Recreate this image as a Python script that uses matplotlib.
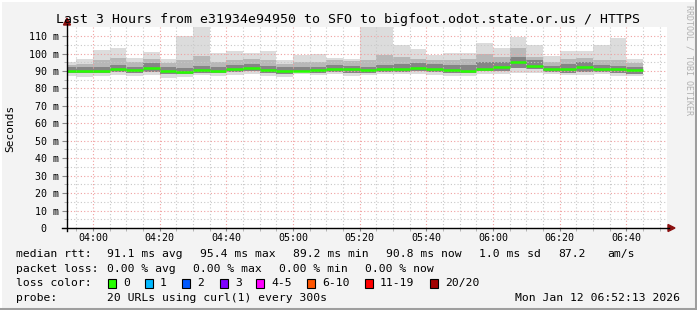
import matplotlib
matplotlib.use("Agg")
import matplotlib.pyplot as plt
import matplotlib.dates as mdates
from matplotlib.patches import Rectangle, Polygon
from matplotlib.lines import Line2D
import pandas as pd
import numpy as np

# ---------------- data ----------------
title = "Last 3 Hours from e31934e94950 to SFO to bigfoot.odot.state.or.us / HTTPS"
bar_start = pd.date_range("2026-01-12 03:50", periods=35, freq="5min")
view_start = pd.Timestamp("2026-01-12 03:52:13")
view_end = pd.Timestamp("2026-01-12 06:52:13")

rtt_max = [95.0, 96.8, 102.0, 103.3, 97.6, 101.0, 96.8, 109.8, 116.0, 100.4,
           101.4, 100.1, 101.5, 96.2, 99.4, 100.0, 97.5, 96.7, 116.0, 116.0,
           104.6, 102.7, 99.2, 100.3, 100.5, 106.0, 103.2, 109.6, 104.6, 98.7,
           101.4, 101.2, 104.6, 109.1, 96.8]
rtt_hi2 = [93.5, 94.0, 96.0, 97.5, 95.0, 97.0, 94.5, 96.0, 98.5, 95.0,
           96.5, 97.0, 96.0, 94.0, 95.0, 95.0, 96.0, 95.5, 96.0, 99.0,
           98.0, 97.0, 96.0, 96.0, 97.0, 100.0, 98.0, 103.0, 98.0, 95.0,
           97.0, 97.5, 96.5, 96.0, 94.5]
rtt_hi1 = [92.0, 92.0, 92.5, 93.5, 92.5, 94.5, 92.0, 91.5, 93.0, 92.0,
           93.5, 94.0, 93.0, 92.0, 92.5, 92.5, 93.5, 93.0, 92.5, 93.5,
           94.0, 94.5, 94.0, 93.5, 93.5, 95.0, 95.0, 98.0, 96.0, 93.0,
           94.0, 95.0, 93.5, 93.0, 92.5]
rtt_median = [90.2, 90.2, 90.2, 91.3, 90.5, 91.8, 90.2, 89.2, 90.7, 90.2,
              91.3, 91.9, 90.7, 90.2, 90.2, 90.6, 91.4, 91.4, 90.3, 91.1,
              91.1, 91.8, 91.2, 90.5, 90.0, 91.2, 92.0, 95.2, 93.0, 91.2,
              91.1, 92.0, 91.2, 91.2, 90.7]
rtt_lo1 = [89.0, 89.0, 89.0, 89.5, 89.0, 89.5, 88.5, 88.0, 89.0, 89.0,
           89.5, 90.0, 89.0, 88.5, 89.5, 89.0, 89.5, 89.0, 89.0, 89.5,
           89.5, 90.0, 89.5, 89.0, 89.0, 90.0, 90.0, 91.5, 91.0, 89.5,
           89.0, 89.5, 89.5, 89.0, 88.5]
rtt_min = [87.0, 86.7, 87.0, 87.5, 87.0, 87.9, 86.0, 86.5, 87.5, 87.3,
           87.8, 88.0, 87.2, 86.8, 88.3, 87.5, 88.0, 87.3, 87.5, 88.5,
           88.0, 88.5, 87.5, 87.0, 87.0, 88.5, 88.5, 88.8, 89.0, 88.0,
           87.5, 87.5, 88.0, 87.0, 87.0]

ytick_vals = [0, 10, 20, 30, 40, 50, 60, 70, 80, 90, 100, 110]
ytick_labels = ["0  ", "10 m", "20 m", "30 m", "40 m", "50 m", "60 m", "70 m",
                "80 m", "90 m", "100 m", "110 m"]

loss_labels = ["0", "1", "2", "3", "4-5", "6-10", "11-19", "20/20"]
loss_colors = ["#26ff00", "#00b8ff", "#0059ff", "#7e00ff", "#ff00ff",
               "#ff5500", "#ff0000", "#a10000"]

stats_rtt = ["91.1 ms avg", "95.4 ms max", "89.2 ms min", "90.8 ms now",
             "1.0 ms sd", "87.2", "am/s"]
stats_loss = ["0.00 % avg", "0.00 % max", "0.00 % min", "0.00 % now"]
probe_text = "20 URLs using curl(1) every 300s"
stamp_text = "Mon Jan 12 06:52:13 2026"

# ---------------- figure ----------------
W, H = 697, 310
plt.rcParams["font.family"] = ["DejaVu Sans Mono"]
fig = plt.figure(figsize=(W / 100, H / 100), dpi=100, facecolor="#f3f3f3")

def fx(px):
    return px / W

def fy(py):
    return 1 - py / H

ax_l, ax_r, ax_t, ax_b = 67, 667, 27, 228
ax = fig.add_axes([fx(ax_l), fy(ax_b), fx(ax_r - ax_l), (ax_b - ax_t) / H])
ax.set_facecolor("white")

width = pd.Timedelta("5min")
wdays = 5 / 1440.0
layers = [(rtt_min, rtt_max, "#dcdcdc"),
          (rtt_lo1, rtt_hi2, "#b8b8b8"),
          (rtt_lo1, rtt_hi1, "#858585")]
for lo, hi, col in layers:
    lo = np.array(lo)
    hi = np.array(hi)
    ax.bar(bar_start, hi - lo, bottom=lo, width=wdays, align="edge",
           color=col, linewidth=0, zorder=1)

ax.hlines(rtt_median, bar_start, bar_start + width, colors=loss_colors[0],
          linewidth=1.8, zorder=4)

ax.set_xlim(view_start, view_end)
ax.set_ylim(0, 115.2)

ax.xaxis.set_major_locator(mdates.MinuteLocator(byminute=[0, 20, 40]))
ax.xaxis.set_minor_locator(mdates.MinuteLocator(byminute=range(0, 60, 5)))
ax.xaxis.set_major_formatter(mdates.DateFormatter("%H:%M"))
ax.set_yticks(ytick_vals)
ax.set_yticklabels(ytick_labels)
ax.set_yticks(np.arange(5, 115, 10), minor=True)

ax.grid(which="major", color="#f0a0a0", linestyle=(0, (1, 2)), linewidth=0.8)
ax.grid(which="minor", color="#c8c8c8", linestyle=(0, (1, 2)), linewidth=0.8)
ax.set_axisbelow(False)

for s in ["top", "right", "left", "bottom"]:
    ax.spines[s].set_visible(False)

ax.tick_params(axis="both", which="major", labelsize=7.2, length=3.5,
               width=0.8, color="#888888", pad=2)
ax.tick_params(axis="both", which="minor", length=2, width=0.6,
               color="#aaaaaa")
ax.tick_params(axis="x", which="major", length=2.5, pad=1)

# axis lines with arrows
fig.add_artist(Line2D([fx(ax_l), fx(ax_l)], [fy(ax_b + 3), fy(24)],
                      color="black", linewidth=1, transform=fig.transFigure))
fig.add_artist(Line2D([fx(62), fx(669)], [fy(ax_b), fy(ax_b)],
                      color="black", linewidth=1, transform=fig.transFigure))
fig.add_artist(Polygon([[fx(ax_l - 3.5), fy(25)], [fx(ax_l + 3.5), fy(25)],
                        [fx(ax_l), fy(18)]], closed=True, color="#8b1010",
                       transform=fig.transFigure))
fig.add_artist(Polygon([[fx(668), fy(ax_b - 3.5)], [fx(668), fy(ax_b + 3.5)],
                        [fx(675), fy(ax_b)]], closed=True, color="#8b1010",
                       transform=fig.transFigure))

# texts
fig.text(fx(348), fy(19), title, ha="center", va="center", fontsize=9.55,
         color="black")
fig.text(fx(10), fy(128), "Seconds", rotation=90, ha="center", va="center",
         fontsize=8, color="black")
fig.text(fx(689), fy(60), "RRDTOOL / TOBI OETIKER", rotation=270,
         ha="center", va="center", fontsize=6.0, color="#b0b0b0")

lfs = 8.2
row_y = [254, 269, 283, 298]
fig.text(fx(16), fy(row_y[0]), "median rtt:", fontsize=lfs, va="center")
for txt, x in zip(stats_rtt, [107, 200, 293, 386, 479, 558, 607]):
    fig.text(fx(x), fy(row_y[0]), txt, fontsize=lfs, va="center")
fig.text(fx(16), fy(row_y[1]), "packet loss:", fontsize=lfs, va="center")
for txt, x in zip(stats_loss, [107, 193, 279, 365]):
    fig.text(fx(x), fy(row_y[1]), txt, fontsize=lfs, va="center")
fig.text(fx(16), fy(row_y[2]), "loss color:", fontsize=lfs, va="center")
for lab, col, x in zip(loss_labels, loss_colors,
                       [108, 145, 182, 220, 256, 307, 365, 430]):
    fig.add_artist(Rectangle((fx(x), fy(row_y[2] + 4.5)), fx(8), 9 / H,
                             facecolor=col, edgecolor="black", linewidth=0.8,
                             transform=fig.transFigure))
    fig.text(fx(x + 15), fy(row_y[2]), lab, fontsize=lfs, va="center")
fig.text(fx(16), fy(row_y[3]), "probe:", fontsize=lfs, va="center")
fig.text(fx(107), fy(row_y[3]), probe_text, fontsize=lfs, va="center")
fig.text(fx(680), fy(row_y[3]), stamp_text, fontsize=lfs, va="center",
         ha="right")

# frame
fig.add_artist(Line2D([0, 1], [fy(1), fy(1)], color="#ffffff", linewidth=1.5,
                      transform=fig.transFigure))
fig.add_artist(Line2D([fx(1), fx(1)], [0, 1], color="#ffffff", linewidth=1.5,
                      transform=fig.transFigure))
fig.add_artist(Line2D([0, 1], [fy(308.5), fy(308.5)], color="#9e9e9e",
                      linewidth=2.2, transform=fig.transFigure))
fig.add_artist(Line2D([fx(695.5), fx(695.5)], [0, 1], color="#9e9e9e",
                      linewidth=2.2, transform=fig.transFigure))

fig.savefig("out.png", dpi=100, facecolor=fig.get_facecolor())
